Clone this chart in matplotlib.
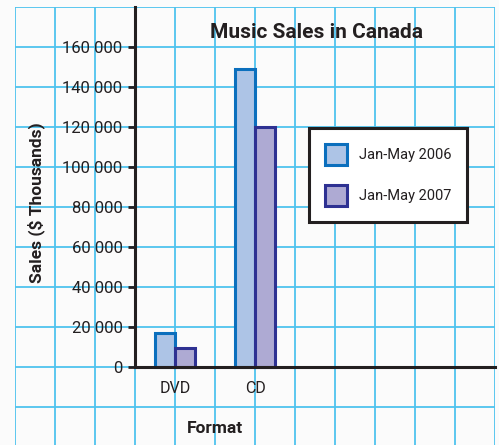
import matplotlib
matplotlib.use("Agg")
import matplotlib.pyplot as plt
import numpy as np

# ---- data ----
formats = ["DVD", "CD"]
sales_2006 = [17000, 149000]
sales_2007 = [9500, 120000]
series_labels = ["Jan-May 2006", "Jan-May 2007"]
y_ticks = [0, 20000, 40000, 60000, 80000, 100000, 120000, 140000, 160000]
y_tick_labels = ["0", "20 000", "40 000", "60 000", "80 000", "100 000",
                 "120 000", "140 000", "160 000"]
title = "Music Sales in Canada"
xlabel = "Format"
ylabel = "Sales ($ Thousands)"

# ---- style ----
FONT = ["Roboto", "DejaVu Sans"]
plt.rcParams["font.family"] = FONT
bg = "#fbfbfb"
grid_c = "#4fc3ee"
c06_fill, c06_edge = "#adc4e6", "#0b6fbd"
c07_fill, c07_edge = "#aeaad3", "#2e3192"
ink = "#231f20"

W, H = 499, 445
fig = plt.figure(figsize=(W / 100, H / 100), dpi=100, facecolor=bg)
# axes covers the whole grid area: x 15..495 px, y 7..447 px
ax = fig.add_axes([15 / W, (H - 447) / H, 480 / W, 440 / H])
ax.set_facecolor(bg)
ax.set_xlim(-3, 9)
ax.set_ylim(-40000, 180000)

# grid
for gx in np.arange(-3, 10):
    ax.axvline(gx, color=grid_c, linewidth=1.3, zorder=0.5)
for gy in np.arange(-40000, 180001, 20000):
    ax.axhline(gy, color=grid_c, linewidth=1.3, zorder=0.5)

# bars
pos = np.arange(len(formats)) * 2 + 1
bw = 0.5
b1 = ax.bar(pos - bw / 2, sales_2006, width=bw, color=c06_fill,
            edgecolor=c06_edge, linewidth=2.2, label=series_labels[0], zorder=2)
b2 = ax.bar(pos + bw / 2, sales_2007, width=bw, color=c07_fill,
            edgecolor=c07_edge, linewidth=2.2, label=series_labels[1], zorder=2)

# spines
for s in ["top", "right"]:
    ax.spines[s].set_visible(False)
ax.spines["left"].set_position(("data", 0))
ax.spines["bottom"].set_position(("data", 0))
ax.spines["left"].set_bounds(0, 180000)
ax.spines["bottom"].set_bounds(0, 9)
for s in ["left", "bottom"]:
    ax.spines[s].set_color(ink)
    ax.spines[s].set_linewidth(2.2)
    ax.spines[s].set_zorder(3)

ax.set_yticks(y_ticks)
ax.set_yticklabels(y_tick_labels)
ax.set_xticks(pos)
ax.set_xticklabels(formats)
ax.tick_params(axis="y", which="major", length=5, width=2, color=ink,
               labelsize=12, labelcolor=ink, pad=4)
ax.tick_params(axis="x", which="major", length=0, labelsize=11.5,
               labelcolor=ink, pad=10)

# texts
fig.text(317 / W, 1 - 38 / H, title, ha="center", va="baseline",
         fontsize=15, fontweight="bold", color=ink)
fig.text(215 / W, 1 - 433 / H, xlabel, ha="center", va="baseline",
         fontsize=12.5, fontweight="bold", color=ink)
fig.text(36 / W, 1 - 203 / H, ylabel, ha="center", va="center",
         rotation=90, fontsize=12.5, fontweight="bold", color=ink)

leg = ax.legend(handles=[b1, b2], loc="upper left",
                bbox_to_anchor=(309 / W, 1 - 128 / H),
                bbox_transform=fig.transFigure, fontsize=10.5,
                frameon=True, fancybox=False, shadow=False,
                borderpad=1.1, labelspacing=1.35, handlelength=1.5,
                handleheight=1.85, handletextpad=0.8, borderaxespad=0)
leg.get_frame().set_edgecolor(ink)
leg.get_frame().set_linewidth(2.2)
leg.get_frame().set_facecolor("white")
leg.get_frame().set_alpha(1)
leg.set_zorder(5)
for t in leg.get_texts():
    t.set_color(ink)

fig.savefig("out.png", dpi=100, facecolor=bg)
